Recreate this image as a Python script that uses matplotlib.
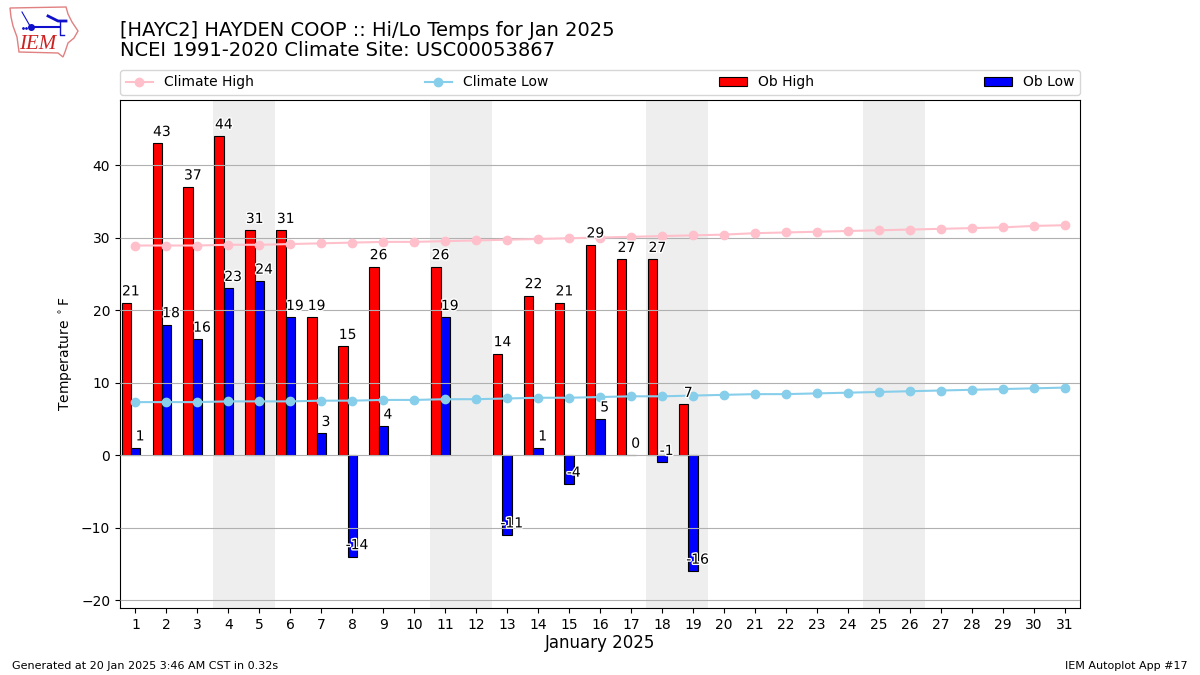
import matplotlib
matplotlib.use("Agg")
import matplotlib.pyplot as plt
import matplotlib.patheffects as pe
from matplotlib.patches import Polygon

days = list(range(1, 32))
ob_high = [21, 43, 37, 44, 31, 31, 19, 15, 26, None, 26, None, 14, 22, 21, 29, 27, 27, 7]
ob_low = [1, 18, 16, 23, 24, 19, 3, -14, 4, None, 19, None, -11, 1, -4, 5, 0, -1, -16]
climate_high = [28.9, 28.9, 28.9, 29.0, 29.0, 29.1, 29.2, 29.3, 29.4, 29.4, 29.5, 29.6, 29.7, 29.8,
                29.9, 30.0, 30.1, 30.2, 30.3, 30.4, 30.6, 30.7, 30.8, 30.9, 31.0, 31.1, 31.2, 31.3,
                31.4, 31.6, 31.7]
climate_low = [7.3, 7.3, 7.3, 7.4, 7.4, 7.4, 7.5, 7.5, 7.6, 7.6, 7.7, 7.7, 7.8, 7.9, 7.9, 8.0, 8.1,
               8.1, 8.2, 8.3, 8.4, 8.4, 8.5, 8.6, 8.7, 8.8, 8.9, 9.0, 9.1, 9.2, 9.3]
weekends = [(3.5, 5.5), (10.5, 12.5), (17.5, 19.5), (24.5, 26.5)]
title_lines = ["[HAYC2] HAYDEN COOP :: Hi/Lo Temps for Jan 2025", "NCEI 1991-2020 Climate Site: USC00053867"]

fig = plt.figure(figsize=(12, 6.75), dpi=100)
ax = fig.add_axes([0.1, 1 - 608 / 675, 0.8, 508 / 675])
for a, b in weekends:
    ax.axvspan(a, b, color="#eeeeee", lw=0, zorder=0)
ax.grid(axis="y", color="#b0b0b0", lw=0.8, zorder=2.5)
ax.set_axisbelow(False)

hd = [d for d, v in zip(days, ob_high) if v is not None]
hv = [v for v in ob_high if v is not None]
ld = [d for d, v in zip(days, ob_low) if v is not None]
lv = [v for v in ob_low if v is not None]
b1 = ax.bar([d - 0.3 for d in hd], hv, width=0.3, color="r", edgecolor="k", lw=0.8, label="Ob High", zorder=2)
b2 = ax.bar(ld, lv, width=0.3, color="b", edgecolor="k", lw=0.8, label="Ob Low", zorder=2)
l1, = ax.plot(days, climate_high, color="pink", marker="o", ms=6, lw=1.5, label="Climate High", zorder=3)
l2, = ax.plot(days, climate_low, color="skyblue", marker="o", ms=6, lw=1.5, label="Climate Low", zorder=3)

white = [pe.withStroke(linewidth=2, foreground="white")]
for d, v in zip(hd, hv):
    ax.text(d - 0.15, v + 0.6, str(v), ha="center", va="bottom", fontsize=10, path_effects=white, zorder=4)
for d, v in zip(ld, lv):
    ax.text(d + 0.15, v + 0.6, str(v), ha="center", va="bottom", fontsize=10, path_effects=white, zorder=4)

ax.set_xlim(0.5, 31.5)
ax.set_ylim(-21.1, 48.97)
ax.set_xticks(days)
ax.set_yticks(range(-20, 41, 10))
ax.tick_params(labelsize=10)
ax.set_xlabel("January 2025", fontsize=12, labelpad=2)
ax.set_ylabel(r"Temperature $^\circ$F", fontsize=10)

fig.text(0.1, 1 - 60 / 675, "\n".join(title_lines), fontsize=14, ha="left", va="bottom", linespacing=1.1)
ax.legend([l1, l2, b1, b2], ["Climate High", "Climate Low", "Ob High", "Ob Low"], ncol=4, mode="expand",
          loc="lower left", bbox_to_anchor=(0, 1.0098, 1, 0.05), borderaxespad=0, fontsize=10)
fig.text(0.01, 1 - 666 / 675, "Generated at 20 Jan 2025 3:46 AM CST in 0.32s", fontsize=8, ha="left", va="center")
fig.text(0.99, 1 - 666 / 675, "IEM Autoplot App #17", fontsize=8, ha="right", va="center")

# IEM logo
logo = fig.add_axes([0, 1 - 60 / 675, 80 / 1200, 60 / 675])
logo.set_xlim(0, 80); logo.set_ylim(60, 0); logo.axis("off")
logo.add_patch(Polygon([(10, 8), (66, 7), (68, 14), (72, 22), (78, 31), (74, 38), (68, 43), (65, 52), (63, 57),
                        (58, 53), (19, 52), (17, 37), (13, 26), (11, 17)], closed=True, fill=False,
                       edgecolor="#e08080", lw=1))
logo.text(38, 44.5, "IEM", color="#cc2222", fontsize=15, style="italic", family="Liberation Serif", ha="center", va="center")
logo.plot([31, 60], [27, 27], color="#1010cc", lw=1.5)
logo.plot([31], [27], "o", color="#1010cc", ms=4)
logo.plot([48, 58, 66], [16, 21, 21], color="#1010cc", lw=2)
logo.plot([60, 60, 64], [21, 35, 35], color="#1010cc", lw=1)
logo.plot([22, 30], [12, 26], color="#1010cc", lw=0.8)
logo.plot([23, 26], [28, 28], ".", color="#1010cc", ms=2)
fig.savefig("out.png", dpi=100)
